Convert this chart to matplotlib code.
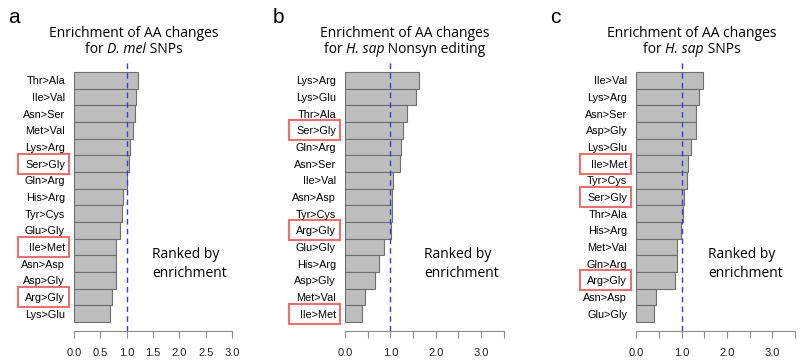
import numpy as np
import matplotlib
matplotlib.use('Agg')
import matplotlib.pyplot as plt
import matplotlib.transforms as mtransforms
from matplotlib.patches import Rectangle

# data
labels_a = ['Thr>Ala', 'Ile>Val', 'Asn>Ser', 'Met>Val', 'Lys>Arg', 'Ser>Gly', 'Gln>Arg',
            'His>Arg', 'Tyr>Cys', 'Glu>Gly', 'Ile>Met', 'Asn>Asp', 'Asp>Gly', 'Arg>Gly', 'Lys>Glu']
values_a = [1.22, 1.17, 1.16, 1.12, 1.07, 1.05, 1.01, 0.93, 0.92, 0.87, 0.80, 0.80, 0.79, 0.72, 0.69]

labels_b = ['Lys>Arg', 'Lys>Glu', 'Thr>Ala', 'Ser>Gly', 'Gln>Arg', 'Asn>Ser', 'Ile>Val',
            'Asn>Asp', 'Tyr>Cys', 'Arg>Gly', 'Glu>Gly', 'His>Arg', 'Asp>Gly', 'Met>Val', 'Ile>Met']
values_b = [1.64, 1.57, 1.36, 1.27, 1.23, 1.22, 1.07, 1.04, 1.03, 1.01, 0.86, 0.76, 0.67, 0.44, 0.37]

labels_c = ['Ile>Val', 'Lys>Arg', 'Asn>Ser', 'Asp>Gly', 'Lys>Glu', 'Ile>Met', 'Tyr>Cys',
            'Ser>Gly', 'Thr>Ala', 'His>Arg', 'Met>Val', 'Gln>Arg', 'Arg>Gly', 'Asn>Asp', 'Glu>Gly']
values_c = [1.47, 1.38, 1.31, 1.31, 1.20, 1.13, 1.12, 1.06, 1.04, 0.99, 0.90, 0.90, 0.86, 0.43, 0.40]

highlight = ['Ser>Gly', 'Ile>Met', 'Arg>Gly']

# second title line: (plain, italic, plain)
subtitles = [('for ', 'D. mel', ' SNPs'),
             ('for ', 'H. sap', ' Nonsyn editing'),
             ('for ', 'H. sap', ' SNPs')]
letters = ['a', 'b', 'c']
xmaxes = [3.0, 3.5, 3.5]

TFONT = 'Open Sans'
TSIZE = 10

W, H = 800, 362
fig = plt.figure(figsize=(8, 3.62), dpi=100)
renderer = fig.canvas.get_renderer()

# pixel layout of each panel: axis left (x=0), axis right, title centre, letter x, "Ranked" x
layout = [(74, 232, 134, 8, 152),
          (345, 503.6, 404.5, 273, 424),
          (636.3, 795, 691.7, 550, 708)]
top, bottom = 62, 331

panels = [(labels_a, values_a), (labels_b, values_b), (labels_c, values_c)]


def mixed_line(cx, ybase, parts):
    # draw plain/italic/plain pieces side by side, centred on cx (pixels)
    styles = ['normal', 'italic', 'normal']
    texts = []
    for s, st in zip(parts, styles):
        texts.append(fig.text(0, 1 - ybase / H, s, fontsize=TSIZE, family=TFONT,
                              style=st, va='baseline', ha='left'))
    widths = [t.get_window_extent(renderer).width for t in texts]
    x = cx - sum(widths) / 2
    for t, w in zip(texts, widths):
        t.set_x(x / W)
        x += w


for k, (labels, values) in enumerate(panels):
    left, right, tcx, lx, rx = layout[k]
    ax = fig.add_axes([left / W, 1 - bottom / H, (right - left) / W, (bottom - top) / H])
    n = len(labels)
    y = np.arange(n)
    ax.barh(y, values, height=1.0, color='#bebebe', edgecolor='#6e6e6e', linewidth=0.8)
    ax.axvline(1.0, color='#3b3bd6', lw=1.0, ls=(0, (4, 3)))
    ax.set_xlim(0, xmaxes[k])
    ax.set_ylim(n - 0.5 + 0.54, -1.1)

    for s in ['top', 'right', 'left']:
        ax.spines[s].set_visible(False)
    ax.spines['bottom'].set_color('#8c8c8c')
    ax.spines['bottom'].set_bounds(0, xmaxes[k])

    ticks = np.arange(0, xmaxes[k] + 0.01, 0.5)
    ax.set_xticks(ticks)
    if k == 0:
        ax.set_xticklabels(['%.1f' % t for t in ticks])
    else:
        ax.set_xticklabels(['%.1f' % t if t == int(t) else '' for t in ticks])
    ax.tick_params(axis='x', length=5, width=0.8, color='#8c8c8c', pad=7,
                   labelsize=8, labelcolor='#222222')
    ax.set_yticks(y)
    ax.set_yticklabels(labels)
    ax.tick_params(axis='y', length=0, pad=6.5, labelsize=7.8)
    for t in ax.get_xticklabels() + ax.get_yticklabels():
        t.set_family('Liberation Sans')

    # red boxes round highlighted labels
    trans = mtransforms.blended_transform_factory(ax.transAxes, ax.transData)
    w = right - left
    for i, lab in enumerate(labels):
        if lab in highlight:
            ax.add_patch(Rectangle((-56 / w, i - 0.6), 51 / w, 1.2, transform=trans,
                                   fill=False, edgecolor='#e57373', lw=1.5, clip_on=False))

    fig.text(tcx / W, 1 - 37.3 / H, 'Enrichment of AA changes', ha='center', va='baseline',
             fontsize=TSIZE, family=TFONT)
    mixed_line(tcx, 53, subtitles[k])
    fig.text(lx / W, 1 - 23 / H, letters[k], ha='left', va='baseline',
             fontsize=15, family='Liberation Sans')
    fig.text(rx / W, 1 - 258.3 / H, 'Ranked by', ha='left', va='baseline',
             fontsize=TSIZE, family=TFONT)
    fig.text(rx / W, 1 - 276.7 / H, 'enrichment', ha='left', va='baseline',
             fontsize=TSIZE, family=TFONT)

fig.savefig('out.png', dpi=100)
